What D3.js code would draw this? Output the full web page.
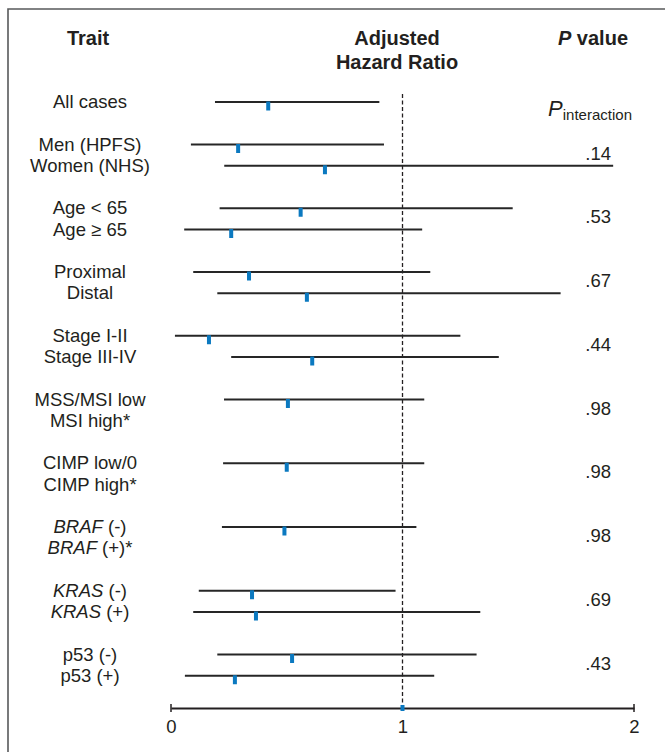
<!DOCTYPE html>
<html>
<head>
<meta charset="utf-8">
<script src="https://cdn.jsdelivr.net/npm/d3@7"></script>
<style>
  html, body { margin: 0; padding: 0; background: #fff; }
  svg { display: block; }
  text { font-family: "Liberation Sans", Arial, Helvetica, sans-serif; fill: #231f20; }
</style>
</head>
<body>
<svg id="chart" width="665" height="752"></svg>
<script>
// ---- data ----
const traits = ["All cases", "Men (HPFS)", "Women (NHS)", "Age < 65", "Age \u2265 65",
  "Proximal", "Distal", "Stage I-II", "Stage III-IV", "MSS/MSI low", "MSI high*",
  "CIMP low/0", "CIMP high*", "BRAF (-)", "BRAF (+)*", "KRAS (-)", "KRAS (+)",
  "p53 (-)", "p53 (+)"];
const hazardRatio = [0.42, 0.29, 0.665, 0.56, 0.26, 0.337, 0.587, 0.164, 0.61, 0.505, null,
  0.50, null, 0.49, null, 0.35, 0.367, 0.523, 0.276];
const ciLower = [0.19, 0.086, 0.23, 0.21, 0.057, 0.096, 0.20, 0.017, 0.26, 0.229, null,
  0.225, null, 0.22, null, 0.12, 0.096, 0.20, 0.06];
const ciUpper = [0.90, 0.92, 1.91, 1.476, 1.085, 1.12, 1.683, 1.25, 1.416, 1.094, null,
  1.094, null, 1.06, null, 0.97, 1.336, 1.32, 1.137];
const pInteraction = [".14", ".53", ".67", ".44", ".98", ".98", ".98", ".69", ".43"];
const xTicks = [0, 1, 2];
const italicWords = ["BRAF", "KRAS"];

// ---- layout ----
const svg = d3.select("#chart");
const W = 665, H = 752;
const blue = "#0b79c0";
const ink = "#231f20";

// slot index: all cases = 0, then each pair takes slots 3g-1, 3g
const slot = traits.map((t, i) => i === 0 ? 0 : (Math.floor((i - 1) / 2) + 1) * 3 - 1 + ((i - 1) % 2));
const y = d3.scaleLinear().domain([0, 27]).range([102, 675.75]);
const x = d3.scaleLinear().domain([0, 2]).range([171, 634]);

// frame (open on right and bottom)
svg.append("path")
  .attr("d", `M${W + 5},9 L8,9 L8,${H + 5}`)
  .attr("fill", "none").attr("stroke", "#58595b").attr("stroke-width", 1.6);

// headers
svg.append("text").attr("x", 88).attr("y", 45).attr("text-anchor", "middle")
  .attr("font-size", 20).attr("font-weight", "bold").text("Trait");
svg.append("text").attr("x", 397).attr("y", 45).attr("text-anchor", "middle")
  .attr("font-size", 20).attr("font-weight", "bold").text("Adjusted");
svg.append("text").attr("x", 397).attr("y", 69).attr("text-anchor", "middle")
  .attr("font-size", 20).attr("font-weight", "bold").text("Hazard Ratio");
const ph = svg.append("text").attr("x", 593).attr("y", 45).attr("text-anchor", "middle")
  .attr("font-size", 20).attr("font-weight", "bold");
ph.append("tspan").attr("font-style", "italic").text("P");
ph.append("tspan").text(" value");

const pi = svg.append("text").attr("x", 632).attr("y", 116).attr("text-anchor", "end");
pi.append("tspan").attr("font-size", 22).attr("font-style", "italic").text("P");
pi.append("tspan").attr("font-size", 15).attr("dy", 4).text("interaction");

// reference line at HR = 1
svg.append("line")
  .attr("x1", x(1)).attr("x2", x(1)).attr("y1", 94).attr("y2", 708)
  .attr("stroke", ink).attr("stroke-width", 1.3).attr("stroke-dasharray", "4,2.5");

// trait labels
traits.forEach((t, i) => {
  const tx = svg.append("text").attr("x", 90).attr("y", y(slot[i]) + 6)
    .attr("text-anchor", "middle").attr("font-size", 18.5);
  const first = t.split(" ")[0];
  if (italicWords.includes(first)) {
    tx.append("tspan").attr("font-style", "italic").text(first);
    tx.append("tspan").text(t.slice(first.length));
  } else {
    tx.text(t);
  }
});

// CI lines
const idx = d3.range(traits.length).filter(i => hazardRatio[i] !== null);
svg.append("g").selectAll("line").data(idx).join("line")
  .attr("x1", i => x(ciLower[i])).attr("x2", i => x(ciUpper[i]))
  .attr("y1", i => y(slot[i])).attr("y2", i => y(slot[i]))
  .attr("stroke", "#262626").attr("stroke-width", 1.8);

// point estimates
svg.append("g").selectAll("rect").data(idx).join("rect")
  .attr("x", i => x(hazardRatio[i]) - 2).attr("y", i => y(slot[i]) - 0.5)
  .attr("width", 4).attr("height", 9).attr("fill", blue);

// P values (centered between the pair)
pInteraction.forEach((p, g) => {
  const ym = (y(3 * (g + 1) - 1) + y(3 * (g + 1))) / 2;
  svg.append("text").attr("x", 611).attr("y", ym + 4.5)
    .attr("text-anchor", "end").attr("font-size", 18.5).text(p);
});

// x axis
const axisY = 708;
const axis = d3.axisBottom(x).tickValues(xTicks).tickFormat(d3.format("d"))
  .tickSizeInner(0).tickSizeOuter(0).tickPadding(12);
const ga = svg.append("g").attr("transform", `translate(0,${axisY})`).call(axis);
ga.select(".domain").attr("stroke", ink).attr("stroke-width", 2);
ga.selectAll(".tick text").attr("font-size", 18.5).attr("fill", ink)
  .attr("font-family", "Liberation Sans, Arial, sans-serif");
// end caps
svg.append("g").selectAll("line").data([xTicks[0], xTicks[xTicks.length - 1]]).join("line")
  .attr("x1", d => x(d)).attr("x2", d => x(d))
  .attr("y1", axisY - 4).attr("y2", axisY + 4)
  .attr("stroke", ink).attr("stroke-width", 1.5);
// blue mark at 1
svg.append("rect").attr("x", x(1) - 2).attr("y", axisY - 3)
  .attr("width", 4).attr("height", 6).attr("fill", blue);
</script>
</body>
</html>
